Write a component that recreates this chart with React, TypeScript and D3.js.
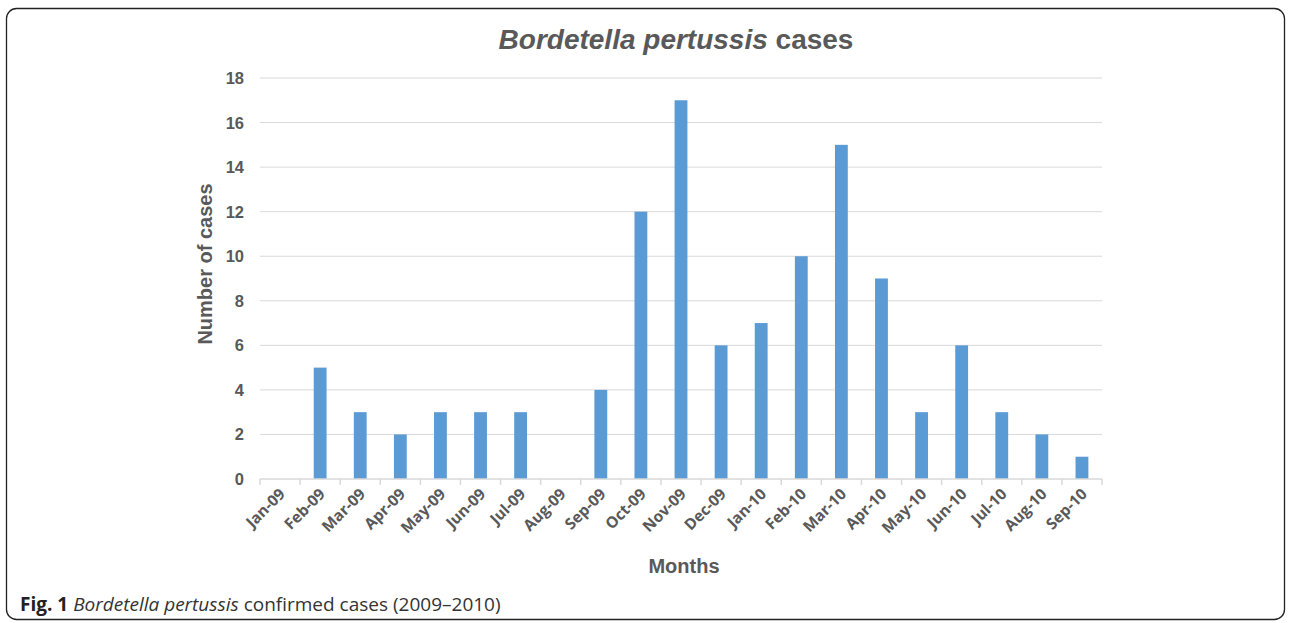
import React from 'react';
import * as d3 from 'd3';

const months = ['Jan-09', 'Feb-09', 'Mar-09', 'Apr-09', 'May-09', 'Jun-09', 'Jul-09', 'Aug-09', 'Sep-09', 'Oct-09', 'Nov-09', 'Dec-09', 'Jan-10', 'Feb-10', 'Mar-10', 'Apr-10', 'May-10', 'Jun-10', 'Jul-10', 'Aug-10', 'Sep-10'];
const cases = [0, 5, 3, 2, 3, 3, 3, 0, 4, 12, 17, 6, 7, 10, 15, 9, 3, 6, 3, 2, 1];
const yTicks = [0, 2, 4, 6, 8, 10, 12, 14, 16, 18];

const W = 1290;
const H = 623;
const left = 260;
const right = 1102;
const top = 78;
const bottom = 479;
const textColor = '#595959';

const App: React.FC = () => {
  const x = d3.scaleBand<string>().domain(months).range([left, right]).paddingInner(0.68).paddingOuter(0.34);
  const y = d3.scaleLinear().domain([0, 18]).range([bottom, top]);
  const step = x.step();
  const font = 'Liberation Sans, Arial, sans-serif';

  return (
    <svg width={W} height={H} style={{ position: 'absolute', left: 0, top: 0 }}>
      <rect x={6.5} y={8.5} width={1278} height={611} rx={10} fill="#fff" stroke="#222" strokeWidth={1.3} />
      <text x={676} y={49} textAnchor="middle" fontFamily={font} fontWeight="bold" fontSize={28} fill={textColor}>
        <tspan fontStyle="italic">Bordetella pertussis</tspan> cases
      </text>

      {yTicks.map((t) => (
        <g key={t}>
          {t > 0 && <line x1={left} x2={right} y1={y(t)} y2={y(t)} stroke="#d9d9d9" strokeWidth={1} />}
          <text x={244} y={y(t) + 6} textAnchor="end" fontFamily={font} fontWeight="bold" fontSize={16.5} fill={textColor}>{t}</text>
        </g>
      ))}

      {months.map((m, i) => (
        <rect key={m} x={x(m)} y={y(cases[i])} width={x.bandwidth()} height={bottom - y(cases[i])} fill="#5b9bd5" />
      ))}

      <line x1={left} x2={right} y1={bottom} y2={bottom} stroke="#d9d9d9" strokeWidth={1.5} />
      {d3.range(months.length + 1).map((i) => (
        <line key={i} x1={left + i * step} x2={left + i * step} y1={bottom} y2={bottom + 6} stroke="#d9d9d9" strokeWidth={1.5} />
      ))}

      {months.map((m) => {
        const cx = (x(m) ?? 0) + x.bandwidth() / 2 + 6;
        return (
          <text key={m} transform={`translate(${cx},${bottom + 16}) rotate(-45)`} textAnchor="end" fontFamily="Open Sans, sans-serif" fontWeight="bold" fontSize={15.5} fill={textColor}>{m}</text>
        );
      })}

      <text transform={`translate(212,264) rotate(-90)`} textAnchor="middle" fontFamily={font} fontWeight="bold" fontSize={20} fill={textColor}>Number of cases</text>
      <text x={684} y={573} textAnchor="middle" fontFamily={font} fontWeight="bold" fontSize={20} fill={textColor}>Months</text>

      <text x={20} y={611} fontFamily="Open Sans, sans-serif" fontSize={19} fill="#333">
        <tspan fontWeight="bold" fill="#222">Fig. 1</tspan> <tspan fontStyle="italic">Bordetella pertussis</tspan> confirmed cases (2009–2010)
      </text>
    </svg>
  );
};

export default App;
